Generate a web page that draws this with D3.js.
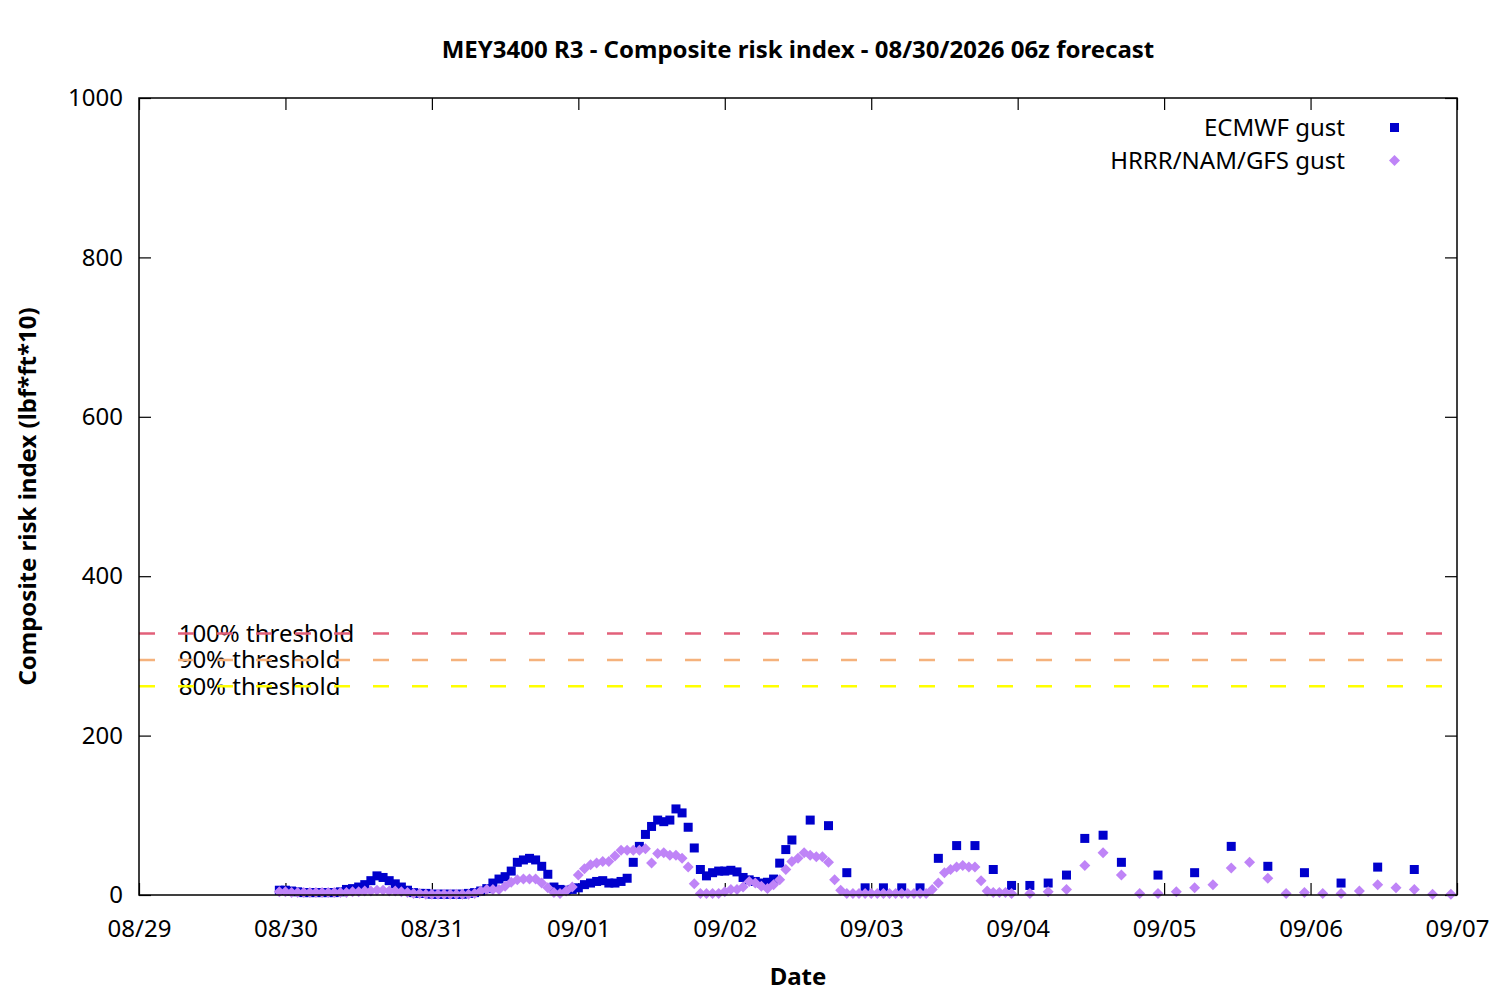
<!DOCTYPE html>
<html lang="en">
<head>
    <meta charset="UTF-8">
    <title>MEY3400 R3 - Composite risk index</title>
    <script src="https://d3js.org/d3.v7.min.js"></script>
    <style>
        body {
            margin: 0;
            background: #fff;
            font-family: 'Noto Sans', sans-serif;
        }
        svg text {
            fill: #000;
        }
    </style>
</head>
<body>
    <svg id="chart" width="1500" height="1000"></svg>

    <script>
        // forecast hours are local time, counted from 08/30 00:00
        const baseTime = new Date(2026, 7, 30, 0, 0);

        // ECMWF gust: hourly from -1 to 83, 3-hourly 86..137, 6-hourly 143..185
        const ecmwfHourly = [
            6, 6, 5, 4, 3, 3, 3, 3, 3, 3, 4,
            7, 8, 10, 13, 18, 24, 22, 18, 14, 10, 6, 3, 2, 2,
            1, 1, 1, 1, 1, 1, 2, 3,
            5, 8, 15, 20, 23, 30, 41, 44, 46, 44, 36, 26, 10, 7, 6, 7,
            9, 13, 15, 17, 18, 15, 15, 17, 21, 41, 61, 76, 86, 94, 92, 94, 108, 103, 85, 59,
            32, 24, 28, 30, 30, 31, 29, 22, 19, 17, 15, 16, 20, 40, 57, 69
        ];
        const ecmwf3h = [94, 87, 28, 9, 9, 9, 9, 46, 62, 62, 32, 12, 12, 15, 25, 71, 75, 41];
        const ecmwf6h = [25, 28, 61, 36, 28, 15, 35, 32];

        // HRRR/NAM/GFS gust: hourly from -1 to 119, 3-hourly 122..191
        const blendHourly = [
            4, 4, 3, 3, 3, 3, 3, 3, 3, 3, 3,
            3, 4, 4, 5, 5, 6, 6, 5, 5, 4,
            3, 2, 2, 1, 1, 1, 1, 1, 1, 1, 1, 2,
            5, 7, 7, 7, 11, 16, 19, 20, 20, 20, 15, 9, 3, 2, 5, 10,
            25, 33, 38, 40, 42, 42, 49, 56, 56, 56, 56, 58, 40, 52, 53, 50, 50, 46, 35, 14,
            2, 2, 2, 2, 4, 7, 7, 10, 17, 15, 11, 8, 13, 19, 32, 42, 46, 53, 50, 48, 48, 41, 19, 6,
            2, 2, 2, 2, 2, 2, 2, 2, 2, 2, 2, 2, 2, 2,
            7, 15, 28, 32, 35, 37, 35, 35, 18, 5, 3, 3, 3, 2
        ];
        const blend3h = [2, 4, 7, 37, 53, 25, 2, 2, 4, 9, 13, 34, 41, 21, 2, 3, 2, 2, 5, 13, 9, 7, 1, 1];

        const thresholds = [
            { label: "100% threshold", value: 328, color: "#e2607a" },
            { label: "90% threshold", value: 295, color: "#f5b27c" },
            { label: "80% threshold", value: 262, color: "#ffff00" }
        ];
        const yTicks = [0, 200, 400, 600, 800, 1000];

        const margin = { top: 98, right: 43, bottom: 105, left: 139 };
        const width = 1500, height = 1000;
        const fontSize = "24px";

        // turn segments of a regular forecast grid into {time, value}
        function series(segments) {
            const out = [];
            segments.forEach(seg => {
                seg.values.forEach((v, i) => {
                    out.push({ time: d3.timeHour.offset(baseTime, seg.start + i * seg.step), value: v });
                });
            });
            return out;
        }

        const ecmwf = series([
            { start: -1, step: 1, values: ecmwfHourly },
            { start: 86, step: 3, values: ecmwf3h },
            { start: 143, step: 6, values: ecmwf6h }
        ]);
        const blend = series([
            { start: -1, step: 1, values: blendHourly },
            { start: 122, step: 3, values: blend3h }
        ]);

        const x = d3.scaleTime()
            .domain([new Date(2026, 7, 29), new Date(2026, 8, 7)])
            .range([margin.left, width - margin.right]);
        const y = d3.scaleLinear()
            .domain([0, 1000])
            .range([height - margin.bottom, margin.top]);

        const svg = d3.select("#chart");
        const x0 = margin.left, x1 = width - margin.right;
        const y0 = height - margin.bottom, y1 = margin.top;

        // axes with inward ticks, mirrored
        const tickLen = 12;
        const fmt = d3.timeFormat("%m/%d");
        const xTicks = x.ticks(d3.timeDay.every(1));

        const axisBottom = svg.append("g")
            .attr("transform", `translate(0,${y0})`)
            .call(d3.axisBottom(x).tickValues(xTicks).tickFormat(fmt).tickSizeInner(-tickLen).tickSizeOuter(0).tickPadding(25));
        const axisTop = svg.append("g")
            .attr("transform", `translate(0,${y1})`)
            .call(d3.axisTop(x).tickValues(xTicks).tickFormat("").tickSizeInner(-tickLen).tickSizeOuter(0));
        const axisLeft = svg.append("g")
            .attr("transform", `translate(${x0},0)`)
            .call(d3.axisLeft(y).tickValues(yTicks).tickFormat(d3.format("d")).tickSizeInner(-tickLen).tickSizeOuter(0).tickPadding(16));
        const axisRight = svg.append("g")
            .attr("transform", `translate(${x1},0)`)
            .call(d3.axisRight(y).tickValues(yTicks).tickFormat("").tickSizeInner(-tickLen).tickSizeOuter(0));

        [axisBottom, axisTop, axisLeft, axisRight].forEach(g => {
            g.select(".domain").remove();
            g.selectAll(".tick line").attr("stroke", "#000").attr("stroke-width", 1.2);
            g.selectAll(".tick text")
                .style("font-family", "'Noto Sans', sans-serif")
                .style("font-size", fontSize)
                .attr("fill", "#000");
        });
        axisBottom.selectAll(".tick text").attr("dy", "0.71em");

        // threshold labels under their dashed lines
        thresholds.forEach(t => {
            svg.append("text")
                .attr("x", x(new Date(2026, 7, 29, 6, 30)))
                .attr("y", y(t.value))
                .attr("dy", "0.35em")
                .style("font-size", fontSize)
                .text(t.label);
            svg.append("line")
                .attr("x1", x0).attr("x2", x1)
                .attr("y1", y(t.value)).attr("y2", y(t.value))
                .attr("stroke", t.color)
                .attr("stroke-width", 2.5)
                .attr("stroke-dasharray", "16,23");
        });

        // ECMWF squares
        const sq = 9;
        svg.append("g").selectAll("rect")
            .data(ecmwf)
            .join("rect")
            .attr("x", d => x(d.time) - sq / 2)
            .attr("y", d => y(d.value) - sq / 2)
            .attr("width", sq)
            .attr("height", sq)
            .attr("fill", "#0000cc");

        // HRRR/NAM/GFS diamonds on top
        const dm = 5.5;
        const diamond = `M0,${-dm}L${dm},0L0,${dm}L${-dm},0Z`;
        svg.append("g").selectAll("path")
            .data(blend)
            .join("path")
            .attr("d", diamond)
            .attr("transform", d => `translate(${x(d.time)},${y(d.value)})`)
            .attr("fill", "#bf84f7");

        // frame
        svg.append("rect")
            .attr("x", x0).attr("y", y1)
            .attr("width", x1 - x0).attr("height", y0 - y1)
            .attr("fill", "none")
            .attr("stroke", "#000")
            .attr("stroke-width", 1.5);

        // legend
        const legend = svg.append("g");
        legend.append("text")
            .attr("x", 1345).attr("y", 128).attr("dy", "0.35em")
            .attr("text-anchor", "end")
            .style("font-size", fontSize)
            .text("ECMWF gust");
        legend.append("rect")
            .attr("x", 1394.5 - sq / 2).attr("y", 127.5 - sq / 2)
            .attr("width", sq).attr("height", sq)
            .attr("fill", "#0000cc");
        legend.append("text")
            .attr("x", 1345).attr("y", 161).attr("dy", "0.35em")
            .attr("text-anchor", "end")
            .style("font-size", fontSize)
            .text("HRRR/NAM/GFS gust");
        legend.append("path")
            .attr("d", diamond)
            .attr("transform", "translate(1394.5,160.5)")
            .attr("fill", "#bf84f7");

        // title and axis titles
        svg.append("text")
            .attr("x", (x0 + x1) / 2).attr("y", 58)
            .attr("text-anchor", "middle")
            .style("font-size", fontSize)
            .style("font-weight", "bold")
            .text("MEY3400 R3 - Composite risk index - 08/30/2026 06z forecast");

        svg.append("text")
            .attr("x", (x0 + x1) / 2).attr("y", 985)
            .attr("text-anchor", "middle")
            .style("font-size", fontSize)
            .style("font-weight", "bold")
            .text("Date");

        svg.append("text")
            .attr("transform", `translate(36,${(y0 + y1) / 2}) rotate(-90)`)
            .attr("text-anchor", "middle")
            .style("font-size", fontSize)
            .style("font-weight", "bold")
            .text("Composite risk index (lbf*ft*10)");
    </script>
</body>
</html>
